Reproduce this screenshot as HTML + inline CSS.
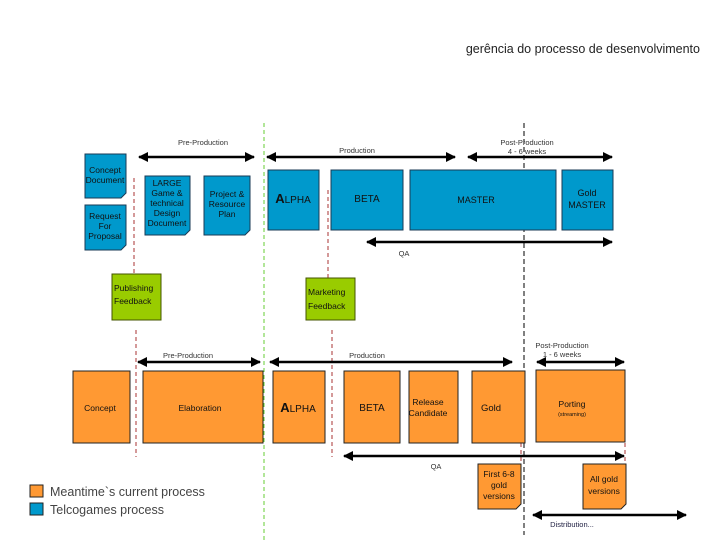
<!DOCTYPE html>
<html><head><meta charset="utf-8"><style>
body{margin:0;background:#fff;}
svg{display:block;font-family:"Liberation Sans",sans-serif;}
</style></head><body>
<svg width="720" height="540" viewBox="0 0 720 540" xmlns="http://www.w3.org/2000/svg">
<defs>
<marker id="a" viewBox="0 0 10 10" refX="9" refY="5" markerWidth="4" markerHeight="4" orient="auto-start-reverse"><path d="M0,0L10,5L0,10z" fill="#000"/></marker>
</defs>
<text x="700" y="53" font-size="12.5" text-anchor="end" fill="#222">gerência do processo de desenvolvimento</text>

<!-- vertical lines -->
<line x1="264" y1="123" x2="264" y2="540" stroke="#66cc33" stroke-width="1" stroke-dasharray="4,3"/>
<line x1="524" y1="123" x2="524" y2="535" stroke="#000" stroke-width="1" stroke-dasharray="5,3"/>
<line x1="134" y1="178" x2="134" y2="320" stroke="#a33" stroke-dasharray="4,3"/>
<line x1="328" y1="190" x2="328" y2="280" stroke="#a33" stroke-dasharray="4,3"/>
<line x1="136" y1="330" x2="136" y2="457" stroke="#a33" stroke-dasharray="4,3"/>
<line x1="332" y1="330" x2="332" y2="457" stroke="#a33" stroke-dasharray="4,3"/>
<line x1="521" y1="443" x2="521" y2="465" stroke="#a33" stroke-dasharray="4,3"/>
<line x1="625" y1="443" x2="625" y2="465" stroke="#a33" stroke-dasharray="4,3"/>

<g stroke="#000" stroke-width="2.5" marker-start="url(#a)" marker-end="url(#a)">
<line x1="139" y1="157" x2="254" y2="157"/>
<line x1="267" y1="157" x2="455" y2="157"/>
<line x1="468" y1="157" x2="612" y2="157"/>
<line x1="367" y1="242" x2="612" y2="242"/>
<line x1="138" y1="362" x2="260" y2="362"/>
<line x1="270" y1="362" x2="512" y2="362"/>
<line x1="537" y1="362" x2="624" y2="362"/>
<line x1="344" y1="456" x2="624" y2="456"/>
<line x1="533" y1="515" x2="686" y2="515"/>
</g>

<g font-size="7.5" fill="#333" text-anchor="middle">
<text x="203" y="145">Pre-Production</text>
<text x="357" y="153">Production</text>
<text x="527" y="145">Post-Production</text>
<text x="527" y="154">4 - 6 weeks</text>
<text x="404" y="256">QA</text>
<text x="188" y="358">Pre-Production</text>
<text x="367" y="358">Production</text>
<text x="562" y="348">Post-Production</text>
<text x="562" y="357">1 - 6 weeks</text>
<text x="436" y="469">QA</text>
<text x="572" y="527" fill="#224">Distribution...</text>
</g>

<!-- blue boxes -->
<g fill="#0099cc" stroke="#1a3a55" stroke-width="1">
<path d="M85,154H126V193L121,198H85Z"/>
<path d="M85,205H126V245L121,250H85Z"/>
<path d="M145,176H190V230L185,235H145Z"/>
<path d="M204,176H250V230L245,235H204Z"/>
<rect x="268" y="170" width="51" height="60"/>
<rect x="331" y="170" width="72" height="60"/>
<rect x="410" y="170" width="146" height="60"/>
<rect x="562" y="170" width="51" height="60"/>
</g>
<g font-size="8.5" fill="#111" text-anchor="middle">
<text x="105" y="173">Concept</text><text x="105" y="183">Document</text>
<text x="105" y="219">Request</text><text x="105" y="229">For</text><text x="105" y="239">Proposal</text>
<text x="167" y="186">LARGE</text><text x="167" y="196">Game &amp;</text><text x="167" y="206">technical</text><text x="167" y="216">Design</text><text x="167" y="226">Document</text>
<text x="227" y="197">Project &amp;</text><text x="227" y="207">Resource</text><text x="227" y="217">Plan</text>
<text x="293" y="203" font-size="10"><tspan font-size="13" font-weight="bold">A</tspan>LPHA</text>
<text x="367" y="202" font-size="10">BETA</text>
<text x="476" y="203" font-size="9">MASTER</text>
<text x="587" y="196" font-size="9">Gold</text><text x="587" y="208" font-size="9">MASTER</text>
</g>

<!-- green -->
<g fill="#99cc00" stroke="#445500" stroke-width="1">
<rect x="112" y="274" width="49" height="46"/>
<rect x="306" y="278" width="49" height="42"/>
</g>
<g font-size="8.5" fill="#111">
<text x="114" y="291">Publishing</text><text x="114" y="304">Feedback</text>
<text x="308" y="295">Marketing</text><text x="308" y="309">Feedback</text>
</g>

<!-- orange -->
<g fill="#ff9933" stroke="#222" stroke-width="1">
<rect x="73" y="371" width="57" height="72"/>
<rect x="143" y="371" width="120" height="72"/>
<rect x="273" y="371" width="52" height="72"/>
<rect x="344" y="371" width="56" height="72"/>
<rect x="409" y="371" width="49" height="72"/>
<rect x="472" y="371" width="53" height="72"/>
<rect x="536" y="370" width="89" height="72"/>
<path d="M478,464H521V504L516,509H478Z"/>
<path d="M583,464H626V504L621,509H583Z"/>
</g>
<g font-size="8.5" fill="#111" text-anchor="middle">
<text x="100" y="411">Concept</text>
<text x="200" y="411">Elaboration</text>
<text x="298" y="412" font-size="10"><tspan font-size="13" font-weight="bold">A</tspan>LPHA</text>
<text x="372" y="411" font-size="10">BETA</text>
<text x="428" y="405">Release</text><text x="428" y="416">Candidate</text>
<text x="491" y="411" font-size="9.5">Gold</text>
<text x="572" y="407">Porting</text><text x="572" y="416" font-size="5.5">(streaming)</text>
<text x="499" y="477">First 6-8</text><text x="499" y="488">gold</text><text x="499" y="499">versions</text>
<text x="604" y="482">All gold</text><text x="604" y="494">versions</text>
</g>

<!-- legend -->
<rect x="30" y="485" width="13" height="12" fill="#ff9933" stroke="#222"/>
<rect x="30" y="503" width="13" height="12" fill="#0099cc" stroke="#222"/>
<text x="50" y="496" font-size="12.5" fill="#444">Meantime`s current process</text>
<text x="50" y="514" font-size="12.5" fill="#444">Telcogames process</text>
</svg>
</body></html>
